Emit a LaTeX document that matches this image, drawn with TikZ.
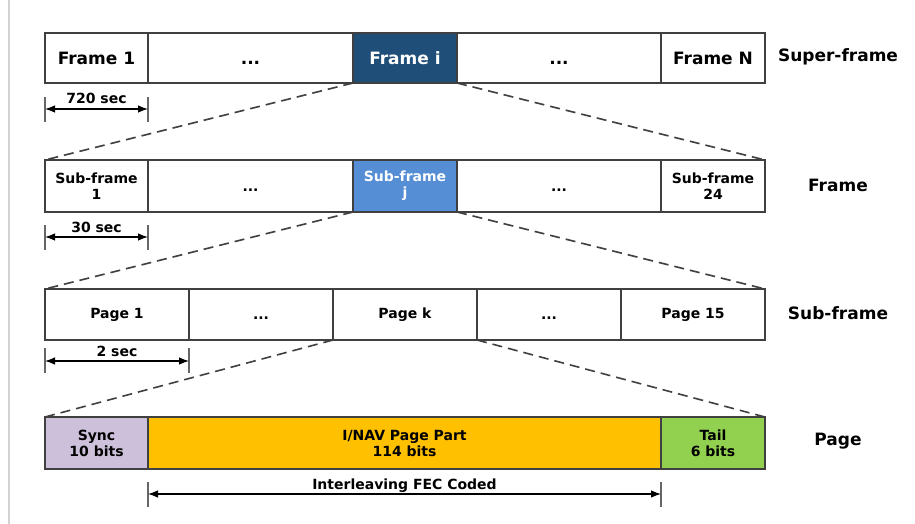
\documentclass[tikz,border=0pt]{standalone}
\usepackage{fontspec}
\setmainfont{DejaVu Sans}
\usetikzlibrary{arrows.meta}
\definecolor{navy}{HTML}{1F4E79}
\definecolor{midblue}{HTML}{558ED5}
\definecolor{lav}{HTML}{CCC0DA}
\definecolor{gold}{HTML}{FFC000}
\definecolor{lgreen}{HTML}{92D050}
\definecolor{edge}{HTML}{404040}
\newcommand{\dotsfill}{\vphantom{F}...}
\tikzset{
  cell/.style={draw=edge, line width=1.2pt, inner sep=0pt, outer sep=0pt, align=center,
    font=\bfseries\fontsize{14}{16}\selectfont},
  bigcell/.style={cell, font=\bfseries\fontsize{17}{19}\selectfont},
  zoomline/.style={draw=edge, line width=1.6pt, dash pattern=on 10pt off 6pt},
  dimline/.style={draw=black, line width=1.1pt, {Latex[length=10pt,width=7.5pt]}-{Latex[length=10pt,width=7.5pt]}},
  tick/.style={draw=gray!80!black, line width=1.2pt},
  dimlabel/.style={font=\bfseries\fontsize{14}{16}\selectfont, anchor=base, yshift=5pt},
  rowlabel/.style={font=\bfseries\fontsize{17}{19}\selectfont}
}
\begin{document}
\begin{tikzpicture}[x=1pt,y=-1pt]
\useasboundingbox[fill=white] (0,0) rectangle (915,524);
\draw[gray!35, line width=1.5pt] (9,0) -- (9,524);

% Row 1: super-frame
\node[bigcell, minimum width=103pt, minimum height=50pt] (r1a) at (96.5,58) {Frame 1};
\node[bigcell, minimum width=205pt, minimum height=50pt] (r1b) at (250.5,58) {\dotsfill};
\node[bigcell, minimum width=104pt, minimum height=50pt, fill=navy, text=white] (r1c) at (405,58) {Frame i};
\node[bigcell, minimum width=204pt, minimum height=50pt] (r1d) at (559,58) {\dotsfill};
\node[bigcell, minimum width=104pt, minimum height=50pt] (r1e) at (713,58) {Frame N};
\node[rowlabel] (l1) at (838,57) {Super-frame};

% Row 2: frame
\node[cell, minimum width=103pt, minimum height=52pt] (r2a) at (96.5,186) {Sub-frame\\1};
\node[cell, minimum width=205pt, minimum height=52pt] (r2b) at (250.5,186) {\dotsfill};
\node[cell, minimum width=104pt, minimum height=52pt, fill=midblue, text=white] (r2c) at (405,186) {Sub-frame\\j};
\node[cell, minimum width=204pt, minimum height=52pt] (r2d) at (559,186) {\dotsfill};
\node[cell, minimum width=104pt, minimum height=52pt] (r2e) at (713,186) {Sub-frame\\24};
\node[rowlabel] (l2) at (838,185) {Frame};

% Row 3: sub-frame
\node[cell, minimum width=144pt, minimum height=51pt] (r3a) at (117,314.5) {Page 1};
\node[cell, minimum width=144pt, minimum height=51pt] (r3b) at (261,314.5) {\dotsfill};
\node[cell, minimum width=144pt, minimum height=51pt] (r3c) at (405,314.5) {Page k};
\node[cell, minimum width=144pt, minimum height=51pt] (r3d) at (549,314.5) {\dotsfill};
\node[cell, minimum width=144pt, minimum height=51pt] (r3e) at (693,314.5) {Page 15};
\node[rowlabel] (l3) at (838,313) {Sub-frame};

% Row 4: page
\node[cell, minimum width=103pt, minimum height=52pt, fill=lav] (r4a) at (96.5,443) {Sync\\10 bits};
\node[cell, minimum width=513pt, minimum height=52pt, fill=gold] (r4b) at (404.5,443) {I/NAV Page Part\\114 bits};
\node[cell, minimum width=104pt, minimum height=52pt, fill=lgreen] (r4c) at (713,443) {Tail\\6 bits};
\node[rowlabel] (l4) at (838,441) {Page};

% zoom lines
\draw[zoomline] (r1c.south west) -- (r2a.north west);
\draw[zoomline] (r1c.south east) -- (r2e.north east);
\draw[zoomline] (r2c.south west) -- (r3a.north west);
\draw[zoomline] (r2c.south east) -- (r3e.north east);
\draw[zoomline] (r3c.south west) -- (r4a.north west);
\draw[zoomline] (r3c.south east) -- (r4c.north east);

% dimension arrows
\draw[tick] ([yshift=-14pt]r1a.south west) -- ([yshift=-39pt]r1a.south west);
\draw[tick] ([yshift=-14pt]r1a.south east) -- ([yshift=-39pt]r1a.south east);
\draw[dimline] ([yshift=-26pt]r1a.south west) -- node[dimlabel] {720 sec} ([yshift=-26pt]r1a.south east);

\draw[tick] ([yshift=-13pt]r2a.south west) -- ([yshift=-38pt]r2a.south west);
\draw[tick] ([yshift=-13pt]r2a.south east) -- ([yshift=-38pt]r2a.south east);
\draw[dimline] ([yshift=-25pt]r2a.south west) -- node[dimlabel] {30 sec} ([yshift=-25pt]r2a.south east);

\draw[tick] ([yshift=-8pt]r3a.south west) -- ([yshift=-33pt]r3a.south west);
\draw[tick] ([yshift=-8pt]r3a.south east) -- ([yshift=-33pt]r3a.south east);
\draw[dimline] ([yshift=-21pt]r3a.south west) -- node[dimlabel] {2 sec} ([yshift=-21pt]r3a.south east);

\draw[tick] ([yshift=-13pt]r4b.south west) -- ([yshift=-38pt]r4b.south west);
\draw[tick] ([yshift=-13pt]r4b.south east) -- ([yshift=-38pt]r4b.south east);
\draw[dimline] ([yshift=-25pt]r4b.south west) -- node[dimlabel] {Interleaving FEC Coded} ([yshift=-25pt]r4b.south east);
\end{tikzpicture}
\end{document}
